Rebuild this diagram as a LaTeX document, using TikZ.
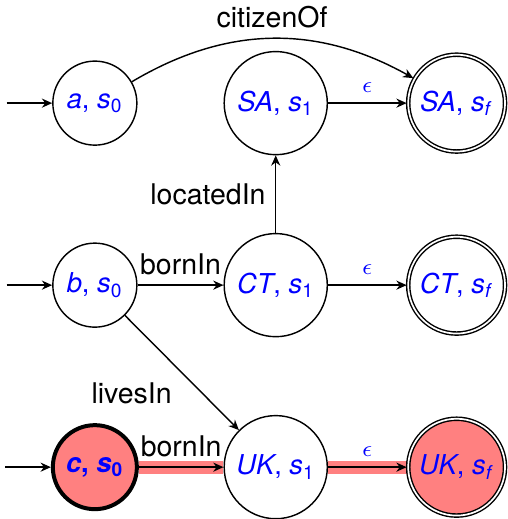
\documentclass[tikz,border=0pt]{standalone}
\usepackage{fontspec}
\setmainfont{TeX Gyre Heros}
\usepackage{tikz}
\usetikzlibrary{arrows.meta,positioning,automata,backgrounds}

\newcommand{\pairlbl}[2]{\textit{#1}, \textit{s}\textsubscript{#2}}

\begin{document}
\begin{tikzpicture}[
    >={Stealth[length=3.6pt,width=3.2pt]},
    node distance=63.9pt and 63.5pt, on grid,
    every state/.style={draw, line width=0.5pt, inner sep=0pt,
                        font=\fontsize{9.6}{11}\selectfont, text=blue},
    every accepting by double/.style={double distance=1.2pt},
    every initial by arrow/.style={line width=0.5pt},
    initial text=, initial distance=16pt,
    srcstate/.style={state, minimum size=29.5pt},
    midstate/.style={state, minimum size=36.2pt},
    endstate/.style={state, accepting, minimum size=34pt},
    pickstate/.style={fill=red!50, line width=1.4pt},
    trans/.style={->, line width=0.5pt},
    epslabel/.style={font=\footnotesize, text=blue},
    hlpath/.style={line width=4.6pt, red!50},
  ]
  \useasboundingbox (-33.3pt,-146pt) rectangle (145pt,36.2pt);

  % === Row: a ===
  \node[srcstate, initial] (a) {\pairlbl{a}{0}};
  \node[midstate, right=of a] (sa) {\pairlbl{SA}{1}};
  \node[endstate, right=of sa] (saf) {\pairlbl{SA}{\textit{f}}};

  % === Row: b ===
  \node[srcstate, initial, below=of a] (b) {\pairlbl{b}{0}};
  \node[midstate, right=of b] (ct) {\pairlbl{CT}{1}};
  \node[endstate, right=of ct] (ctf) {\pairlbl{CT}{\textit{f}}};

  % === Row: c (picked path) ===
  \node[srcstate, initial, pickstate, below=of b] (c) {\bfseries\pairlbl{c}{0}};
  \node[midstate, right=of c] (uk) {\pairlbl{UK}{1}};
  \node[endstate, fill=red!50, right=of uk] (ukf) {\pairlbl{UK}{\textit{f}}};

  % Highlight
  \begin{scope}[on background layer]
    \draw[hlpath] (c) -- (uk);
    \draw[hlpath] (uk) -- (ukf);
  \end{scope}

  % Transitions
  \draw[trans] (a) to[bend left=30] node[above] {citizenOf} (saf);
  \draw[trans] (sa) -- node[above, epslabel] {$\epsilon$} (saf);
  \draw[trans] (ct) -- node[left] {locatedIn} (sa);
  \draw[trans] (b) -- node[above] {bornIn} (ct);
  \draw[trans] (ct) -- node[above, epslabel] {$\epsilon$} (ctf);
  \draw[trans] (b) -- node[below left] {livesIn} (uk);
  \draw[trans] (c) -- node[above] {bornIn} (uk);
  \draw[trans] (uk) -- node[above, epslabel] {$\epsilon$} (ukf);

\end{tikzpicture}
\end{document}
